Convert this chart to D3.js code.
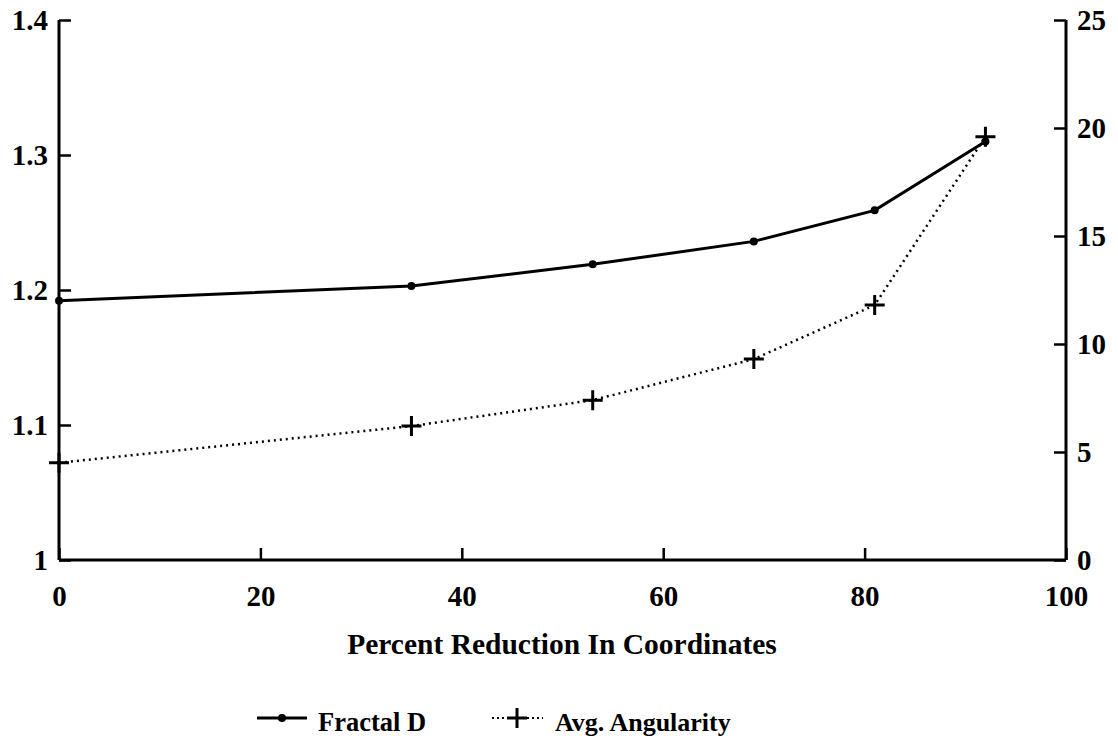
<!DOCTYPE html>
<html>
<head>
<meta charset="utf-8">
<script src="https://cdn.jsdelivr.net/npm/d3@7"></script>
<style>
  body { margin: 0; background: #fff; }
  text { font-family: "Liberation Serif", "Times New Roman", serif; font-weight: bold; fill: #000; }
</style>
</head>
<body>
<svg width="1118" height="745"></svg>
<script>
// data
var reduction = [0, 35, 53, 69, 81, 92];
var fractalD = [1.192, 1.203, 1.219, 1.236, 1.259, 1.31];
var angularity = [4.5, 6.2, 7.4, 9.3, 11.8, 19.6];
var xTicks = [0, 20, 40, 60, 80, 100];
var leftTicks = [1, 1.1, 1.2, 1.3, 1.4];
var rightTicks = [0, 5, 10, 15, 20, 25];

var svg = d3.select("svg");

var x = d3.scaleLinear().domain([0, 100]).range([59, 1066]);
var yL = d3.scaleLinear().domain([1, 1.4]).range([560, 20]);
var yR = d3.scaleLinear().domain([0, 25]).range([560, 20]);

// axes
var left = svg.append("g")
    .attr("transform", "translate(59,0)")
    .call(d3.axisLeft(yL).tickValues(leftTicks).tickSize(-12).tickPadding(11)
        .tickFormat(function (d) { return d === 1 ? "1" : d3.format(".1f")(d); }));

var right = svg.append("g")
    .attr("transform", "translate(1066,0)")
    .call(d3.axisRight(yR).tickValues(rightTicks).tickSize(-12).tickPadding(11));

var bottom = svg.append("g")
    .attr("transform", "translate(0,560)")
    .call(d3.axisBottom(x).tickValues(xTicks).tickSize(-12).tickPadding(25));

[left, right, bottom].forEach(function (g) {
    g.select(".domain").attr("stroke-width", 3).attr("stroke", "#000");
    g.selectAll(".tick line").attr("stroke-width", 2.5).attr("stroke", "#000");
    g.selectAll(".tick text")
        .style("font-size", "29px")
        .style("font-family", "Liberation Serif, serif")
        .style("font-weight", "bold");
});
bottom.select(".domain").attr("d", "M59,0H1066");
left.select(".domain").attr("d", "M0,20V560");
right.select(".domain").attr("d", "M0,20V560");

// series
var pts = reduction.map(function (r, i) { return { x: r, f: fractalD[i], a: angularity[i] }; });

svg.append("path")
    .datum(pts)
    .attr("fill", "none")
    .attr("stroke", "#000")
    .attr("stroke-width", 2.5)
    .attr("stroke-dasharray", "2,4")
    .attr("d", d3.line().x(function (d) { return x(d.x); }).y(function (d) { return yR(d.a); }));

svg.append("path")
    .datum(pts)
    .attr("fill", "none")
    .attr("stroke", "#000")
    .attr("stroke-width", 3)
    .attr("d", d3.line().x(function (d) { return x(d.x); }).y(function (d) { return yL(d.f); }));

svg.append("g").selectAll("circle")
    .data(pts)
    .enter()
    .append("circle")
    .attr("cx", function (d) { return x(d.x); })
    .attr("cy", function (d) { return yL(d.f); })
    .attr("r", 4);

svg.append("g").selectAll("path")
    .data(pts)
    .enter()
    .append("path")
    .attr("stroke", "#000")
    .attr("stroke-width", 3)
    .attr("d", function (d) {
        var cx = x(d.x), cy = yR(d.a);
        return "M" + (cx - 10) + "," + cy + "H" + (cx + 10) + "M" + cx + "," + (cy - 10) + "V" + (cy + 10);
    });

// axis title
svg.append("text")
    .attr("x", 562)
    .attr("y", 654)
    .attr("text-anchor", "middle")
    .style("font-size", "29.5px")
    .text("Percent Reduction In Coordinates");

// legend
var leg = svg.append("g");
leg.append("line").attr("x1", 257).attr("x2", 307).attr("y1", 718).attr("y2", 718)
    .attr("stroke", "#000").attr("stroke-width", 3);
leg.append("circle").attr("cx", 282).attr("cy", 718).attr("r", 4);
leg.append("text").attr("x", 318).attr("y", 731).style("font-size", "26.5px").text("Fractal D");

leg.append("line").attr("x1", 492).attr("x2", 543).attr("y1", 718).attr("y2", 718)
    .attr("stroke", "#000").attr("stroke-width", 2).attr("stroke-dasharray", "2,3");
leg.append("path").attr("stroke", "#000").attr("stroke-width", 3)
    .attr("d", "M507,718H527M517,708V728");
leg.append("text").attr("x", 555).attr("y", 731).style("font-size", "26px").text("Avg. Angularity");
</script>
</body>
</html>
